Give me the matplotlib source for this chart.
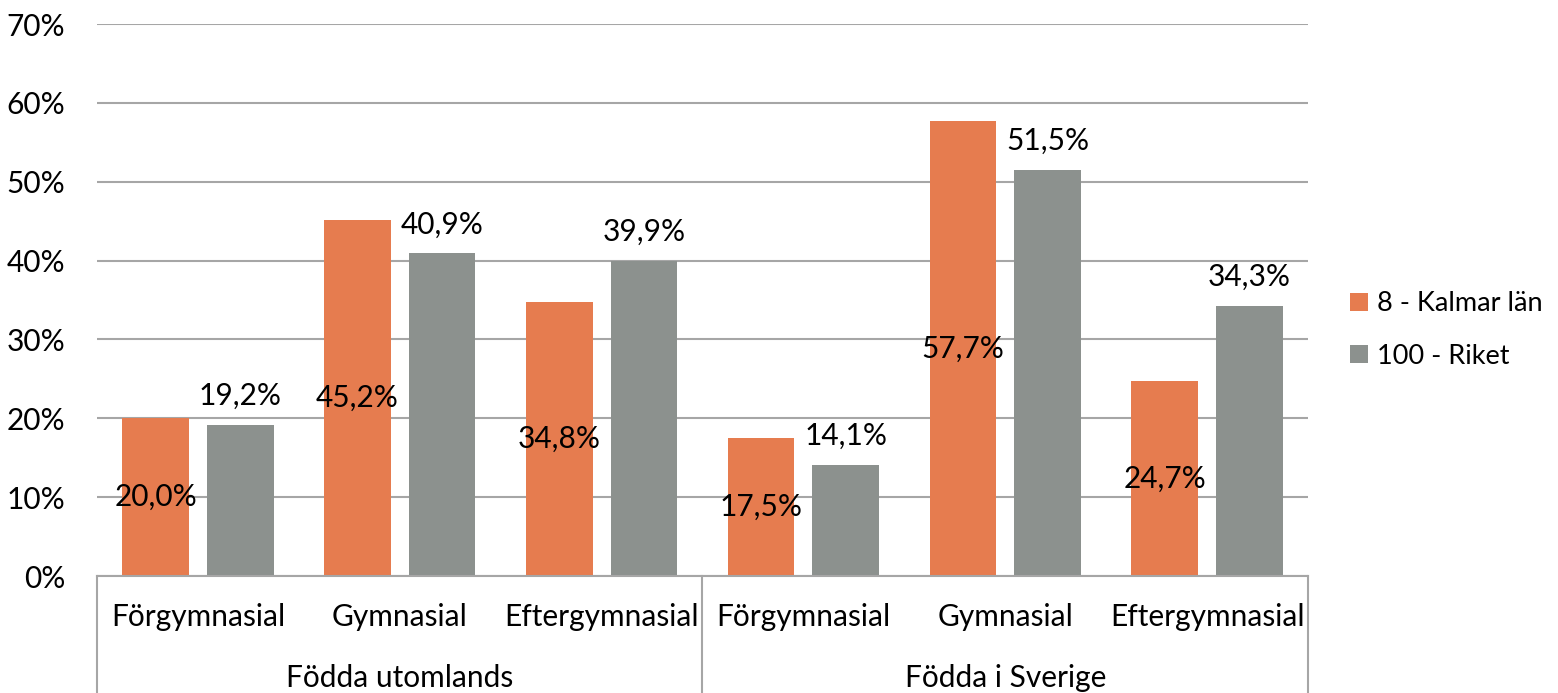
import matplotlib
matplotlib.use("Agg")
import matplotlib.pyplot as plt
import numpy as np

plt.rcParams['font.family'] = ['Lato', 'DejaVu Sans']

# data
kategorier = ["Förgymnasial", "Gymnasial", "Eftergymnasial",
              "Förgymnasial", "Gymnasial", "Eftergymnasial"]
grupper = ["Födda utomlands", "Födda i Sverige"]
kalmar = [20.0, 45.2, 34.8, 17.5, 57.7, 24.7]
riket = [19.2, 40.9, 39.9, 14.1, 51.5, 34.3]
serier = ["8 - Kalmar län", "100 - Riket"]

ORANGE = "#E67C4F"
GRA = "#8C918E"
LINJE = "#A6A6A6"
FS = 21.5

fig = plt.figure(figsize=(15.58, 6.93), dpi=100)
ax = fig.add_axes([97/1558, 1-576/693, (1308-97)/1558, (576-24)/693])

x = np.arange(len(kategorier))
w = 0.33
b1 = ax.bar(x - 0.21, kalmar, w, color=ORANGE, label=serier[0], zorder=2)
b2 = ax.bar(x + 0.21, riket, w, color=GRA, label=serier[1], zorder=2)

def fmt(v):
    return f"{v:.1f}%".replace(".", ",")

# etiketter: Kalmar mitt i stapeln, Riket ovanför
for xi, v in zip(x, kalmar):
    ax.text(xi - 0.21, v / 2, fmt(v), ha='center', va='center', fontsize=FS, zorder=3)
for xi, v in zip(x, riket):
    ax.annotate(fmt(v), (xi + 0.21, v), xytext=(0, 21), textcoords='offset points',
                ha='center', va='center', fontsize=FS, zorder=3)

ax.set_xlim(-0.5, len(kategorier) - 0.5)
ax.set_ylim(0, 70)
ax.set_yticks(range(0, 71, 10))
ax.set_yticklabels([f"{t}%" for t in range(0, 71, 10)], fontsize=FS)
ax.tick_params(axis='y', length=0, pad=23)
ax.grid(axis='y', color=LINJE, linewidth=1.5, zorder=0)
ax.set_xticks([])
for s in ["top", "right", "left"]:
    ax.spines[s].set_visible(False)
ax.spines["bottom"].set_color(LINJE)
ax.spines["bottom"].set_linewidth(1.5)

# kategoriaxel i två nivåer
nedre = -(693 - 576) / 552
for xi, k in zip(x, kategorier):
    ax.text(xi, -41/552*70, k, ha='center', va='center', fontsize=FS, clip_on=False)
for i, g in enumerate(grupper):
    ax.text(1 + 3*i, -102/552*70, g, ha='center', va='center', fontsize=FS, clip_on=False)
trans = ax.get_xaxis_transform()
for xv in [-0.5, 2.5, 5.5]:
    ax.plot([xv, xv], [0, nedre], color=LINJE, linewidth=1.5, transform=trans, clip_on=False)

leg = fig.legend(handles=[b1, b2], labels=serier, loc='center left',
                 bbox_to_anchor=(1350/1558, 1-330/693), frameon=False, fontsize=19.5,
                 handlelength=0.65, handleheight=0.65, handletextpad=0.35,
                 labelspacing=1.0, borderpad=0, borderaxespad=0)

fig.savefig("out.png", dpi=100)
